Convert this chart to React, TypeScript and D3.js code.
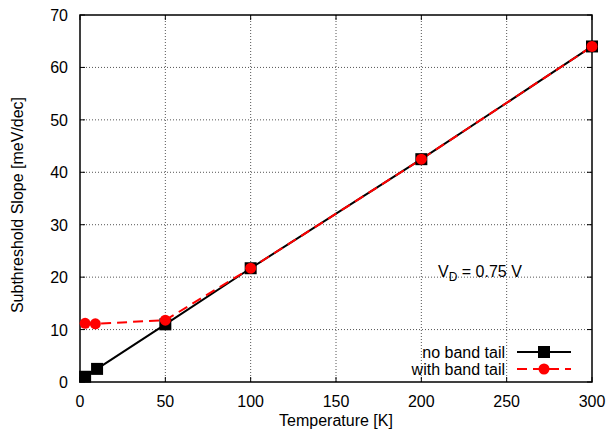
import React from "react";
import * as d3 from "d3";

const tempNoTail = [3, 10, 50, 100, 200, 300];
const slopeNoTail = [1.0, 2.5, 11.0, 21.7, 42.5, 64.0];
const tempTail = [3, 9, 50, 100, 200, 300];
const slopeTail = [11.2, 11.1, 11.8, 21.7, 42.5, 64.0];
const xTicks = [0, 50, 100, 150, 200, 250, 300];
const yTicks = [0, 10, 20, 30, 40, 50, 60, 70];

const W = 608, H = 439;
const L = 80, R = 592, T = 15, B = 382;
const font = "Liberation Sans, Arial, Helvetica, sans-serif";
const fs = 16;

export default function App() {
  const x = d3.scaleLinear().domain([0, 300]).range([L, R]);
  const y = d3.scaleLinear().domain([0, 70]).range([B, T]);
  const line = d3.line<number>();
  const black = tempNoTail.map((t, i) => [x(t), y(slopeNoTail[i])] as [number, number]);
  const red = tempTail.map((t, i) => [x(t), y(slopeTail[i])] as [number, number]);
  const lg1 = 352, lg2 = 369;
  return (
    <svg width={W} height={H} style={{ position: "absolute", left: 0, top: 0 }} fontFamily={font}>
      <rect width={W} height={H} fill="white" />
      {xTicks.slice(1, -1).map((t) => (
        <line key={"gx" + t} x1={x(t)} x2={x(t)} y1={T} y2={B} stroke="#555" strokeWidth={1} strokeDasharray="1,2" />
      ))}
      {yTicks.slice(1, -1).map((t) => (
        <line key={"gy" + t} x1={L} x2={R} y1={y(t)} y2={y(t)} stroke="#555" strokeWidth={1} strokeDasharray="1,2" />
      ))}
      {xTicks.map((t) => (
        <g key={"tx" + t}>
          <line x1={x(t)} x2={x(t)} y1={B} y2={B - 5} stroke="black" />
          <line x1={x(t)} x2={x(t)} y1={T} y2={T + 5} stroke="black" />
          <text x={x(t)} y={B + 25} textAnchor="middle" fontSize={fs}>{t}</text>
        </g>
      ))}
      {yTicks.map((t) => (
        <g key={"ty" + t}>
          <line x1={L} x2={L + 5} y1={y(t)} y2={y(t)} stroke="black" />
          <line x1={R} x2={R - 5} y1={y(t)} y2={y(t)} stroke="black" />
          <text x={L - 12} y={y(t) + 6} textAnchor="end" fontSize={fs}>{t}</text>
        </g>
      ))}
      <rect x={L} y={T} width={R - L} height={B - T} fill="none" stroke="black" strokeWidth={1.5} />
      <path d={line(black) || ""} fill="none" stroke="black" strokeWidth={2} />
      <path d={line(red) || ""} fill="none" stroke="#f00" strokeWidth={2} strokeDasharray="10,6" />
      {black.map(([px, py], i) => (
        <rect key={"b" + i} x={px - 6} y={py - 6} width={12} height={12} fill="black" />
      ))}
      {red.map(([px, py], i) => (
        <circle key={"r" + i} cx={px} cy={py} r={5.5} fill="#f00" />
      ))}
      <text x={438} y={277} fontSize={fs}>
        V<tspan fontSize={12} dy={4}>D</tspan><tspan dy={-4}> = 0.75 V</tspan>
      </text>
      <text x={505} y={lg1 + 6} textAnchor="end" fontSize={fs}>no band tail</text>
      <text x={505} y={lg2 + 6} textAnchor="end" fontSize={fs}>with band tail</text>
      <line x1={517} x2={571} y1={lg1} y2={lg1} stroke="black" strokeWidth={2} />
      <rect x={538} y={lg1 - 6} width={12} height={12} fill="black" />
      <line x1={517} x2={571} y1={lg2} y2={lg2} stroke="#f00" strokeWidth={2} strokeDasharray="10,6" />
      <circle cx={544} cy={lg2} r={5.5} fill="#f00" />
      <text x={336} y={426} textAnchor="middle" fontSize={fs}>Temperature [K]</text>
      <text transform={`translate(23,205) rotate(-90)`} textAnchor="middle" fontSize={fs}>Subthreshold Slope [meV/dec]</text>
    </svg>
  );
}
